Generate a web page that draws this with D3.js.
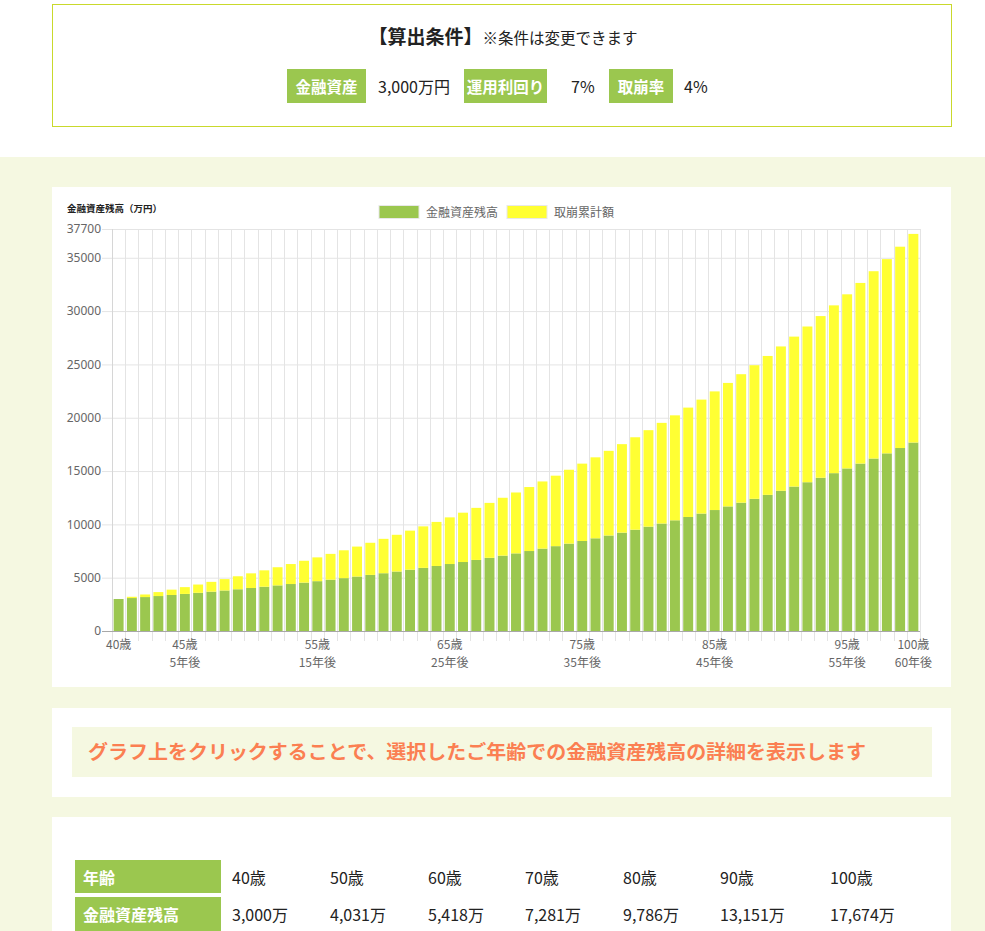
<!DOCTYPE html>
<html lang="ja">
<head>
<meta charset="utf-8">
<script src="https://cdn.jsdelivr.net/npm/d3@7"></script>
<style>
  body { margin: 0; background: #fff; font-family: "Noto Sans CJK JP", "Noto Sans", sans-serif; }
  svg { display: block; }
</style>
</head>
<body>
<div id="container"></div>
<script>
/* DATA */
const ages = d3.range(40, 101);
// 金融資産残高（万円）
const balance = [3000, 3090, 3182, 3278, 3376, 3477, 3582, 3689, 3800, 3914,
  4031, 4152, 4277, 4405, 4537, 4673, 4814, 4958, 5107, 5260,
  5418, 5580, 5748, 5920, 6098, 6281, 6469, 6663, 6863, 7069,
  7281, 7500, 7725, 7957, 8195, 8441, 8694, 8955, 9224, 9501,
  9786, 10079, 10382, 10693, 11014, 11344, 11685, 12035, 12396, 12768,
  13151, 13546, 13952, 14371, 14802, 15246, 15703, 16174, 16660, 17160,
  17674];
// 取崩累計額（万円）
const withdrawn = [0, 120, 244, 371, 502, 637, 776, 920, 1067, 1219,
  1376, 1537, 1703, 1874, 2050, 2232, 2419, 2611, 2810, 3014,
  3224, 3441, 3664, 3894, 4131, 4375, 4626, 4885, 5152, 5426,
  5709, 6000, 6300, 6609, 6928, 7255, 7593, 7941, 8299, 8668,
  9048, 9440, 9843, 10258, 10686, 11126, 11580, 12048, 12529, 13025,
  13536, 14062, 14604, 15162, 15737, 16329, 16939, 17567, 18214, 18880,
  19566];
const seriesNames = ["金融資産残高", "取崩累計額"];
const yTicks = [0, 5000, 10000, 15000, 20000, 25000, 30000, 35000, 37700];
const xTickAges = [40, 45, 55, 65, 75, 85, 95, 100];

// 算出条件
const condLabels = ["金融資産", "運用利回り", "取崩率"];
const condValues = ["3,000万円", "7%", "4%"];

// 表
const tableAges = ["40歳", "50歳", "60歳", "70歳", "80歳", "90歳", "100歳"];
const tableBalance = ["3,000万", "4,031万", "5,418万", "7,281万", "9,786万", "13,151万", "17,674万"];

/* CONSTANTS */
const width = 985, height = 931;
const green = "#9bc74f", yellow = "#ffff33", pale = "#f5f8e1";
const plot = {left: 112, right: 920, top: 229, bottom: 631};

const svg = d3.select("#container").append("svg")
  .attr("width", width).attr("height", height);

// backgrounds
svg.append("rect").attr("x", 0).attr("y", 157).attr("width", width).attr("height", height - 157).attr("fill", pale);

/* CONDITIONS BOX */
svg.append("rect").attr("x", 52.5).attr("y", 4.5).attr("width", 899).attr("height", 122)
  .attr("fill", "#fff").attr("stroke", "#c9d92c");
const title = svg.append("text").attr("x", 503).attr("y", 44).attr("text-anchor", "middle").attr("fill", "#222");
title.append("tspan").attr("font-size", 19).attr("font-weight", "bold").text("【算出条件】");
title.append("tspan").attr("font-size", 15.5).text("※条件は変更できます");

const condBoxes = [{x: 287, w: 79}, {x: 464, w: 83}, {x: 609, w: 64}];
const condValueX = [378, 571, 684];
condLabels.forEach((lab, i) => {
  svg.append("rect").attr("x", condBoxes[i].x).attr("y", 69).attr("width", condBoxes[i].w).attr("height", 34).attr("fill", green);
  svg.append("text").attr("x", condBoxes[i].x + condBoxes[i].w / 2).attr("y", 92.5)
    .attr("text-anchor", "middle").attr("fill", "#fff").attr("font-size", 15.5).attr("font-weight", "bold").text(lab);
  svg.append("text").attr("x", condValueX[i]).attr("y", 92.5)
    .attr("fill", "#222").attr("font-size", 16).text(condValues[i]);
});

/* CHART PANEL */
svg.append("rect").attr("x", 52).attr("y", 187).attr("width", 899).attr("height", 500).attr("fill", "#fff");

const data = ages.map((a, i) => ({age: a, balance: balance[i], withdrawn: withdrawn[i]}));
const stack = d3.stack().keys(["balance", "withdrawn"])(data);

const xScale = d3.scaleBand()
  .domain(ages)
  .range([plot.left, plot.right])
  .paddingInner(0.25)
  .paddingOuter(0.125);

const yScale = d3.scaleLinear()
  .domain([0, 37700])
  .range([plot.bottom, plot.top]);

const step = xScale.step();
const gridCol = "#e4e4e4";

// vertical grid lines (category boundaries)
const bounds = ages.map(a => xScale(a) - step * xScale.paddingInner() / 2).concat([plot.right]);
svg.append("g").selectAll("line").data(bounds).join("line")
  .attr("x1", d => Math.round(d) + 0.5).attr("x2", d => Math.round(d) + 0.5)
  .attr("y1", plot.top).attr("y2", plot.bottom + 10)
  .attr("stroke", gridCol);

// y axis with horizontal grid
const yAxis = svg.append("g")
  .attr("transform", `translate(${plot.left},0)`)
  .call(d3.axisLeft(yScale).tickValues(yTicks).tickSize(10).tickPadding(1).tickFormat(d3.format("d")));
yAxis.select(".domain").remove();
yAxis.selectAll(".tick line").attr("stroke", gridCol).attr("x2", plot.right - plot.left).attr("x1", -10);
yAxis.selectAll(".tick text").attr("fill", "#666").attr("font-size", 12).attr("font-family", "Noto Sans, sans-serif");

// bars
svg.append("g").selectAll("g").data(stack).join("g")
  .attr("fill", (d, i) => i === 0 ? green : yellow)
  .selectAll("rect").data(d => d).join("rect")
  .attr("x", d => xScale(d.data.age))
  .attr("width", xScale.bandwidth())
  .attr("y", d => yScale(d[1]))
  .attr("height", d => yScale(d[0]) - yScale(d[1]));

// axis lines
svg.append("line").attr("x1", plot.left + 0.5).attr("x2", plot.left + 0.5)
  .attr("y1", plot.top).attr("y2", plot.bottom).attr("stroke", "#d6d6d6");
svg.append("line").attr("x1", plot.left - 10).attr("x2", plot.right)
  .attr("y1", plot.bottom + 0.5).attr("y2", plot.bottom + 0.5).attr("stroke", "#a8a8a8");

// x axis labels
const xAxis = svg.append("g")
  .attr("transform", `translate(0,${plot.bottom})`)
  .call(d3.axisBottom(xScale).tickValues(xTickAges).tickSize(0).tickPadding(0).tickFormat(d => d + "歳"));
xAxis.select(".domain").remove();
xAxis.selectAll(".tick text").attr("fill", "#666").attr("font-size", 12)
  .attr("font-family", "Noto Sans CJK JP, sans-serif").attr("dy", null).attr("y", 18);
xAxis.selectAll(".tick").filter(d => d !== 40).append("text")
  .attr("fill", "#666").attr("font-size", 12).attr("font-family", "Noto Sans CJK JP, sans-serif")
  .attr("y", 36).attr("text-anchor", "middle")
  .text(d => (d - 40) + "年後");

// axis title
svg.append("text").attr("x", 67).attr("y", 212).attr("font-size", 9.5).attr("font-weight", "bold")
  .attr("fill", "#222").text("金融資産残高（万円）");

// legend
const legendX = [379, 507];
seriesNames.forEach((name, i) => {
  svg.append("rect").attr("x", legendX[i]).attr("y", 205.5).attr("width", 40).attr("height", 13)
    .attr("fill", i === 0 ? green : yellow).attr("stroke", "#e8e8e8");
  svg.append("text").attr("x", legendX[i] + 47).attr("y", 216.5).attr("font-size", 12)
    .attr("fill", "#666").text(name);
});

/* MESSAGE PANEL */
svg.append("rect").attr("x", 52).attr("y", 708).attr("width", 899).attr("height", 89).attr("fill", "#fff");
svg.append("rect").attr("x", 72).attr("y", 727).attr("width", 860).attr("height", 50).attr("fill", pale);
svg.append("text").attr("x", 88).attr("y", 759).attr("font-size", 19).attr("font-weight", "bold")
  .attr("fill", "#fb7f52").attr("textLength", 778).attr("lengthAdjust", "spacingAndGlyphs")
  .text("グラフ上をクリックすることで、選択したご年齢での金融資産残高の詳細を表示します");

/* TABLE PANEL */
svg.append("rect").attr("x", 52).attr("y", 817).attr("width", 899).attr("height", 120).attr("fill", "#fff");
const colX = [232, 330, 428, 525, 623, 720, 830];
const rows = [{label: "年齢", values: tableAges, y: 860, h: 33}, {label: "金融資産残高", values: tableBalance, y: 897, h: 36}];
rows.forEach(r => {
  svg.append("rect").attr("x", 75).attr("y", r.y).attr("width", 146).attr("height", r.h).attr("fill", green);
  svg.append("text").attr("x", 83).attr("y", r.y + 24).attr("font-size", 16).attr("font-weight", "bold")
    .attr("fill", "#fff").text(r.label);
  r.values.forEach((v, i) => {
    svg.append("text").attr("x", colX[i]).attr("y", r.y + 24).attr("font-size", 16)
      .attr("fill", "#222").text(v);
  });
});
</script>
</body>
</html>
